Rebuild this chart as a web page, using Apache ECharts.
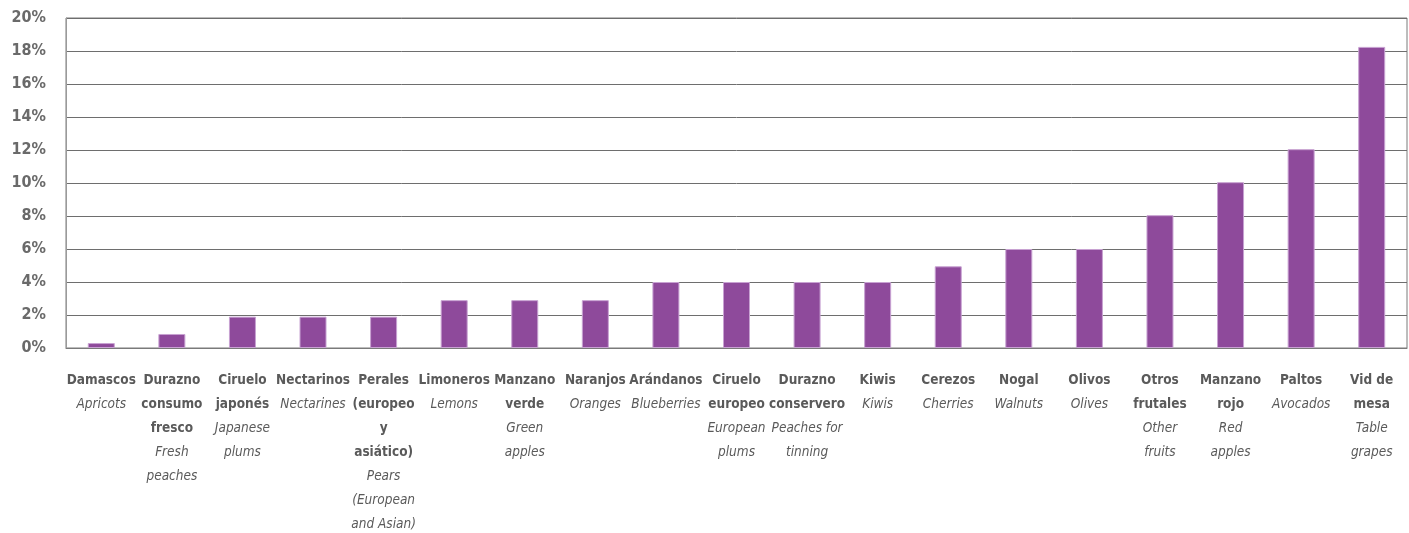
<!DOCTYPE html>
<html>
<head>
<meta charset="utf-8">
<script src="https://cdn.jsdelivr.net/npm/echarts@6/dist/echarts.min.js"></script>
<style>
  html, body { margin: 0; padding: 0; background: #fff; }
  #chart { width: 1409px; height: 533px; }
</style>
</head>
<body>
<div id="chart"></div>
<script>
var namesEs = [
    'Damascos', 'Durazno\nconsumo\nfresco', 'Ciruelo\njaponés', 'Nectarinos',
    'Perales\n(europeo\ny\nasiático)', 'Limoneros', 'Manzano\nverde', 'Naranjos',
    'Arándanos', 'Ciruelo\neuropeo', 'Durazno\nconservero', 'Kiwis', 'Cerezos',
    'Nogal', 'Olivos', 'Otros\nfrutales', 'Manzano\nrojo', 'Paltos', 'Vid de\nmesa'
];
var namesEn = [
    'Apricots', 'Fresh\npeaches', 'Japanese\nplums', 'Nectarines',
    'Pears\n(European\nand Asian)', 'Lemons', 'Green\napples', 'Oranges',
    'Blueberries', 'European\nplums', 'Peaches for\ntinning', 'Kiwis', 'Cherries',
    'Walnuts', 'Olives', 'Other\nfruits', 'Red\napples', 'Avocados', 'Table\ngrapes'
];
var shares = [0.3, 0.85, 1.9, 1.9, 1.9, 2.9, 2.9, 2.9, 4.0, 4.0, 4.0, 4.0, 4.95, 6.0, 6.0, 8.05, 10.05, 12.05, 18.25];
var yTicks = [0, 20, 2]; // min, max, interval

var font = "'DejaVu Sans Condensed', 'Liberation Sans Narrow', sans-serif";

var option = {
    animation: false,
    grid: {
        left: 66,
        right: 2,
        top: 18,
        bottom: 185,
        show: true,
        borderColor: '#7a7a7a',
        borderWidth: 1
    },
    xAxis: {
        type: 'category',
        data: namesEs,
        axisLine: { lineStyle: { color: '#7a7a7a' } },
        axisTick: { show: false },
        axisLabel: {
            interval: 0,
            margin: 20,
            formatter: function (value, idx) {
                var es = value.split('\n').map(function (s) { return '{es|' + s + '}'; }).join('\n');
                var en = namesEn[idx].split('\n').map(function (s) { return '{en|' + s + '}'; }).join('\n');
                return es + '\n' + en;
            },
            rich: {
                es: { fontFamily: font, fontWeight: 'bold', fontSize: 13.5, color: '#5a5a5a', lineHeight: 24 },
                en: { fontFamily: font, fontStyle: 'italic', fontSize: 13.5, color: '#5a5a5a', lineHeight: 24 }
            }
        }
    },
    yAxis: {
        type: 'value',
        min: yTicks[0],
        max: yTicks[1],
        interval: yTicks[2],
        axisLine: { show: true, lineStyle: { color: '#9a9a9a' } },
        axisTick: { show: false },
        splitLine: { lineStyle: { color: '#6e6e6e', width: 1 } },
        axisLabel: {
            margin: 20,
            formatter: '{value}%',
            fontFamily: font,
            fontWeight: 'bold',
            fontSize: 16,
            color: '#6a6a6a'
        }
    },
    series: [
        {
            type: 'bar',
            data: shares,
            barWidth: 27,
            itemStyle: {
                color: '#8e4a9b',
                borderColor: '#c8a2d2',
                borderWidth: 1
            }
        }
    ]
};

var myChart = echarts.init(document.getElementById('chart'));
myChart.setOption(option);
</script>
</body>
</html>
